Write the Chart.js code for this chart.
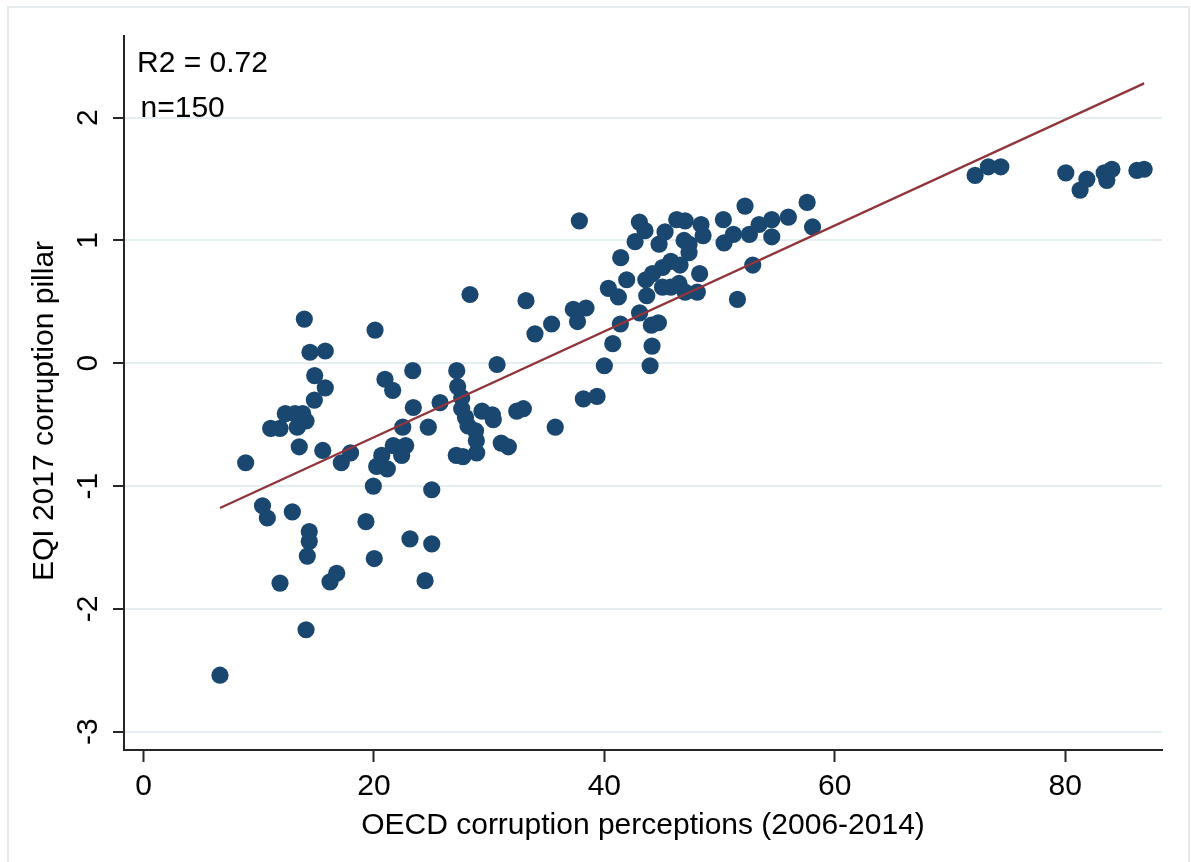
<!DOCTYPE html>
<html>
<head>
<meta charset="utf-8">
<title>EQI 2017 corruption pillar vs OECD corruption perceptions</title>
<script src="https://cdn.jsdelivr.net/npm/chart.js@4"></script>
<style>
  html, body { margin: 0; padding: 0; background: #fff; }
  #wrap { width: 1191px; height: 862px; }
</style>
</head>
<body>
<div id="wrap"><canvas id="scatter" width="1191" height="862"></canvas></div>
<script>
// OECD corruption perceptions (2006-2014), one value per region
const perceptions = [
  6.64, 8.87, 10.33, 10.75, 11.04, 11.85, 11.85, 12.31, 12.92, 13.15,
  13.35, 13.52, 13.82, 14.11, 13.96, 14.45, 15.78, 14.86, 15.78, 14.83,
  14.11, 14.39, 14.39, 14.22, 15.56, 16.19, 16.77, 17.17, 17.97, 19.31,
  19.95, 20.03, 20.10, 20.96, 21.63, 21.68, 22.41, 22.76, 20.68, 20.24,
  21.16, 22.50, 23.13, 23.37, 23.42, 24.44, 24.72, 25.02, 25.02, 25.74,
  27.19, 27.27, 27.62, 27.62, 27.95, 28.17, 28.82, 28.89, 28.92, 27.15,
  27.73, 29.38, 30.28, 30.36, 28.34, 30.69, 31.05, 31.67, 32.40, 32.97,
  33.20, 33.98, 35.42, 35.74, 37.31, 38.41, 37.67, 37.83, 38.18, 39.37,
  40.00, 40.35, 40.73, 41.22, 41.39, 41.42, 41.94, 42.67, 43.04, 43.06,
  43.53, 43.60, 43.68, 43.97, 44.08, 44.14, 44.18, 44.69, 44.75, 45.27,
  45.05, 45.05, 45.77, 45.77, 46.28, 46.48, 46.57, 47.01, 46.92, 47.35,
  47.35, 47.01, 48.07, 48.27, 48.39, 48.57, 50.33, 50.39, 51.20, 51.55,
  52.21, 52.59, 52.88, 53.43, 54.53, 54.53, 55.97, 57.60, 58.07, 72.18,
  73.33, 74.41, 80.05, 81.88, 81.29, 83.38, 83.61, 84.05, 86.22, 86.85
];

// EQI 2017 corruption pillar, same order as above
const eqiPillar = [
  -2.54, -0.81, -1.16, -1.26, -0.53, -0.53, -1.79, -0.41, -1.21, -0.41,
  -0.52, -0.68, -0.41, -0.47, 0.36, 0.09, 0.10, -0.10, -0.20, -0.30,
  -2.17, -1.37, -1.45, -1.57, -0.71, -1.78, -1.71, -0.81, -0.73, -1.29,
  -1.00, -1.59, 0.27, -0.13, -0.22, -0.67, -0.75, -0.67, -0.75, -0.84,
  -0.86, -0.52, -1.43, -0.06, -0.36, -1.77, -0.52, -1.03, -1.47, -0.32,
  -0.06, -0.19, -0.28, -0.37, -0.44, -0.51, -0.55, -0.63, -0.73, -0.75,
  -0.76, -0.39, -0.42, -0.46, 0.56, -0.01, -0.65, -0.68, -0.39, -0.37,
  0.51, 0.24, 0.32, -0.52, 0.44, 0.45, 0.34, 1.16, -0.29, -0.27,
  -0.02, 0.61, 0.16, 0.54, 0.32, 0.86, 0.68, 0.99, 1.15, 0.41,
  1.08, 0.68, 0.55, -0.02, 0.31, 0.14, 0.73, 0.33, 0.97, 1.07,
  0.78, 0.62, 0.83, 0.62, 1.17, 0.65, 0.80, 1.16, 1.00, 0.97,
  0.90, 0.58, 0.58, 0.73, 1.13, 1.04, 1.17, 0.98, 1.05, 0.52,
  1.28, 1.05, 0.80, 1.13, 1.17, 1.03, 1.19, 1.31, 1.11, 1.53,
  1.60, 1.60, 1.55, 1.50, 1.41, 1.55, 1.49, 1.58, 1.57, 1.58
];

// linear fit
const fitIntercept = -1.464;
const fitSlope = 0.0431;

const xTickValues = [0, 20, 40, 60, 80];
const yTickValues = [-3, -2, -1, 0, 1, 2];

const xTitle = "OECD corruption perceptions (2006-2014)";
const yTitle = "EQI 2017 corruption pillar";
const statLines = ["R2 = 0.72", "n=150"];

const points = perceptions.map((x, i) => ({ x: x, y: eqiPillar[i] }));
const xLo = Math.min(...perceptions);
const xHi = Math.max(...perceptions);
const fitLine = [xLo, xHi].map(x => ({ x: x, y: fitIntercept + fitSlope * x }));

const FONT = "Arial, 'Liberation Sans', sans-serif";
const AXIS_COLOR = "#262626";

Chart.defaults.font.family = FONT;
Chart.defaults.color = "#000";

// light outer frame, the y title, and the fit statistics in the top-left corner
const decorations = {
  id: "decorations",
  beforeDraw(chart) {
    const c = chart.ctx;
    c.save();
    c.fillStyle = "#fff";
    c.fillRect(0, 0, chart.width, chart.height);
    c.strokeStyle = "#e3ebee";
    c.lineWidth = 2;
    c.strokeRect(8, 7, chart.width - 10, chart.height + 20);
    c.restore();
  },
  afterDraw(chart) {
    const c = chart.ctx;
    const area = chart.chartArea;
    c.save();
    c.fillStyle = "#000";
    c.font = "30px " + FONT;
    c.textBaseline = "alphabetic";
    c.fillText(statLines[0], area.left + 13, 72);
    c.fillText(statLines[1], area.left + 16.5, 117);

    // y title sits a little below the middle of the axis
    c.translate(45, (area.top + area.bottom) / 2 + 18);
    c.rotate(-Math.PI / 2);
    c.textAlign = "center";
    c.textBaseline = "middle";
    c.fillText(yTitle, 0, 0);
    c.restore();
  }
};

new Chart(document.getElementById("scatter"), {
  type: "scatter",
  data: {
    datasets: [
      {
        type: "line",
        data: fitLine,
        borderColor: "#90353b",
        borderWidth: 2.3,
        pointRadius: 0,
        fill: false,
        order: 0
      },
      {
        data: points,
        backgroundColor: "#1a476f",
        borderColor: "#1a476f",
        borderWidth: 0,
        pointRadius: 8.6,
        order: 1
      }
    ]
  },
  options: {
    responsive: false,
    animation: false,
    events: [],
    layout: { padding: { top: 36, right: 29, left: 0, bottom: 0 } },
    plugins: {
      legend: { display: false },
      tooltip: { enabled: false }
    },
    scales: {
      x: {
        type: "linear",
        min: -1.69,
        max: 88.4,
        afterBuildTicks: s => { s.ticks = xTickValues.map(v => ({ value: v })); },
        afterFit: s => { s.height = 112; },
        border: { display: true, color: AXIS_COLOR, width: 2 },
        grid: {
          drawOnChartArea: false,
          drawTicks: true,
          tickLength: 12,
          tickColor: AXIS_COLOR,
          tickWidth: 2
        },
        ticks: {
          padding: 7,
          maxRotation: 0,
          font: { size: 30 },
          color: "#000"
        },
        title: {
          display: true,
          text: xTitle,
          font: { size: 30 },
          color: "#000",
          padding: { top: 0, bottom: 18 }
        }
      },
      y: {
        type: "linear",
        min: -3.149,
        max: 2.665,
        afterBuildTicks: s => { s.ticks = yTickValues.map(v => ({ value: v })); },
        afterFit: s => { s.width = 124; },
        border: { display: true, color: AXIS_COLOR, width: 2 },
        grid: {
          color: "#e4edf0",
          lineWidth: 2,
          drawTicks: true,
          tickLength: 11,
          tickColor: AXIS_COLOR,
          tickWidth: 2
        },
        ticks: {
          minRotation: 90,
          maxRotation: 90,
          crossAlign: "center",
          padding: 11,
          font: { size: 30 },
          color: "#000"
        },
        title: { display: false }
      }
    }
  },
  plugins: [decorations]
});
</script>
</body>
</html>
